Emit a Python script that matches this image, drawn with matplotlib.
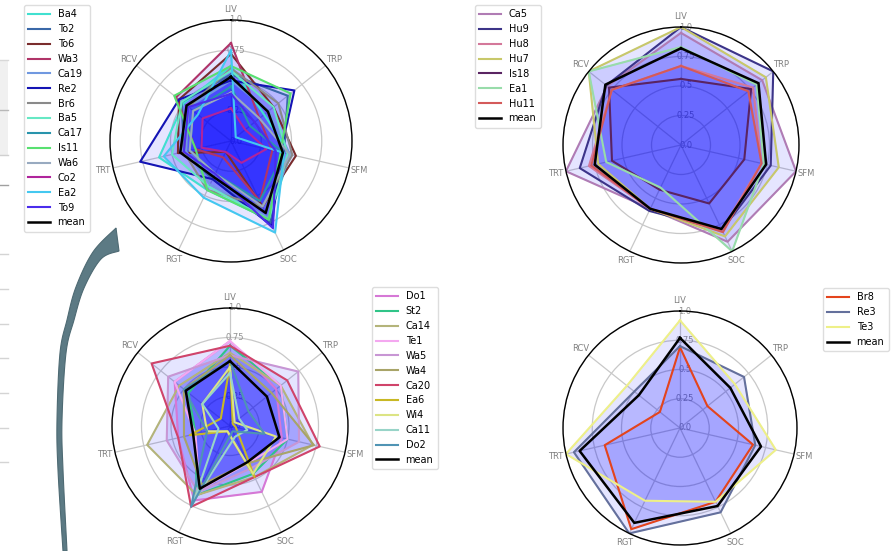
import numpy as np
import matplotlib
matplotlib.use("Agg")
import matplotlib.pyplot as plt
from matplotlib.path import Path
from matplotlib.patches import PathPatch, Rectangle
from matplotlib.lines import Line2D

# ---- data -------------------------------------------------------------
categories = ["LIV", "TRP", "SFM", "SOC", "RGT", "TRT", "RCV"]
r_ticks = [0.0, 0.25, 0.5, 0.75, 1.0]
r_tick_labels = ["0.0", "0.25", "0.5", "0.75", "1.0"]

# group 1
g1_names = ["Ba4", "To2", "To6", "Wa3", "Ca19", "Re2", "Br6", "Ba5",
            "Ca17", "Is11", "Wa6", "Co2", "Ea2", "To9"]
g1_colors = ["#40e0d0", "#3a68a8", "#7a2c2c", "#b03468", "#7098e0", "#1414b4",
             "#8a8a8a", "#66e8c4", "#2894ac", "#58e070", "#98aac0", "#b0249c",
             "#44c8f0", "#4a2cec"]
g1_values = [
    [0.62, 0.35, 0.50, 0.72, 0.45, 0.61, 0.50],
    [0.55, 0.60, 0.45, 0.75, 0.35, 0.40, 0.52],
    [0.72, 0.45, 0.55, 0.60, 0.10, 0.45, 0.55],
    [0.81, 0.30, 0.35, 0.55, 0.15, 0.30, 0.58],
    [0.50, 0.40, 0.50, 0.70, 0.40, 0.38, 0.45],
    [0.50, 0.67, 0.42, 0.78, 0.35, 0.77, 0.55],
    [0.60, 0.50, 0.52, 0.60, 0.45, 0.40, 0.45],
    [0.58, 0.45, 0.48, 0.72, 0.42, 0.50, 0.52],
    [0.45, 0.20, 0.45, 0.55, 0.30, 0.35, 0.40],
    [0.62, 0.63, 0.42, 0.72, 0.45, 0.30, 0.60],
    [0.40, 0.30, 0.50, 0.60, 0.30, 0.35, 0.40],
    [0.27, 0.15, 0.30, 0.20, 0.10, 0.25, 0.30],
    [0.75, 0.05, 0.45, 0.84, 0.52, 0.57, 0.35],
    [0.39, 0.25, 0.38, 0.80, 0.30, 0.40, 0.45],
]
g1_mean = [0.53, 0.39, 0.44, 0.66, 0.33, 0.43, 0.47]

# group 2
g2_names = ["Ca5", "Hu9", "Hu8", "Hu7", "Is18", "Ea1", "Hu11"]
g2_colors = ["#b07cb4", "#3c3488", "#d4789a", "#c8c86a", "#5a2462", "#98dcaa", "#d45a5a"]
g2_values = [
    [0.95, 0.88, 1.00, 0.91, 0.60, 1.00, 0.80],
    [1.00, 1.00, 0.78, 0.80, 0.62, 0.88, 0.81],
    [0.67, 0.78, 0.70, 0.80, 0.60, 0.80, 0.75],
    [1.00, 0.92, 0.85, 0.86, 0.60, 0.72, 1.00],
    [0.56, 0.76, 0.55, 0.55, 0.42, 0.60, 0.78],
    [0.83, 0.82, 0.72, 1.00, 0.40, 0.65, 1.00],
    [0.67, 0.73, 0.70, 0.82, 0.60, 0.78, 0.75],
]
g2_mean = [0.82, 0.84, 0.74, 0.79, 0.60, 0.75, 0.82]

# group 3
g3_names = ["Do1", "St2", "Ca14", "Te1", "Wa5", "Wa4", "Ca20", "Ea6", "Wi4", "Ca11", "Do2"]
g3_colors = ["#d678d6", "#30c488", "#b4b47a", "#f4a8f0", "#c896d4", "#a8a468",
             "#d0446a", "#c8b824", "#dce484", "#98d4c8", "#5094b4"]
g3_values = [
    [0.72, 0.50, 0.45, 0.62, 0.70, 0.45, 0.60],
    [0.68, 0.55, 0.50, 0.45, 0.65, 0.30, 0.45],
    [0.62, 0.55, 0.72, 0.48, 0.65, 0.72, 0.55],
    [0.72, 0.55, 0.50, 0.35, 0.60, 0.30, 0.60],
    [0.60, 0.74, 0.60, 0.40, 0.62, 0.55, 0.67],
    [0.60, 0.45, 0.73, 0.35, 0.55, 0.40, 0.50],
    [0.68, 0.62, 0.78, 0.48, 0.76, 0.45, 0.85],
    [0.52, 0.03, 0.05, 0.48, 0.05, 0.35, 0.10],
    [0.50, 0.05, 0.40, 0.45, 0.05, 0.20, 0.30],
    [0.45, 0.10, 0.15, 0.10, 0.70, 0.10, 0.30],
    [0.55, 0.20, 0.30, 0.05, 0.76, 0.20, 0.50],
]
g3_mean = [0.55, 0.40, 0.43, 0.34, 0.59, 0.32, 0.48]

# group 4
g4_names = ["Br8", "Re3", "Te3"]
g4_colors = ["#e4441c", "#64709c", "#eef088"]
g4_values = [
    [0.69, 0.30, 0.64, 0.70, 0.96, 0.66, 0.22],
    [0.70, 0.70, 0.66, 0.80, 1.00, 0.93, 0.50],
    [0.92, 0.60, 0.84, 0.70, 0.69, 1.00, 0.58],
]
g4_mean = [0.77, 0.55, 0.71, 0.74, 0.90, 0.88, 0.45]

# ---- figure -----------------------------------------------------------
W, H = 896, 551
fig = plt.figure(figsize=(W / 100, H / 100), dpi=100)
fig.patch.set_facecolor("white")


def px_rect(left, top, size):
    return [left / W, (H - top - size) / H, size / W, size / H]


def radar(rect, names, values, mean, colors, legend_xy):
    ax = fig.add_axes(rect, projection="polar")
    n = len(categories)
    ang = np.linspace(0, 2 * np.pi, n, endpoint=False)
    ang_c = np.concatenate([ang, ang[:1]])
    ax.set_theta_offset(np.pi / 2)
    ax.set_theta_direction(-1)
    ax.set_axisbelow(True)
    handles = []
    for name, vals, col in zip(names, values, colors):
        v = np.concatenate([vals, vals[:1]])
        h, = ax.plot(ang_c, v, color=col, lw=1.5, label=name)
        ax.fill(ang_c, v, color="b", alpha=0.1)
        handles.append(h)
    v = np.concatenate([mean, mean[:1]])
    h, = ax.plot(ang_c, v, color="black", lw=1.8, label="mean")
    ax.fill(ang_c, v, color="b", alpha=0.1)
    handles.append(h)

    ax.set_xticks(ang)
    ax.set_xticklabels(categories)
    ax.set_ylim(0, 1)
    ax.set_yticks(r_ticks)
    ax.set_yticklabels([])
    # radial values sit centred on each ring, just right of the LIV spoke,
    # underneath the filled polygons
    for r, s in zip(r_ticks, r_tick_labels):
        ax.annotate(s, xy=(0, r), xytext=(5, 0), textcoords="offset pixels",
                    ha="center", va="center", fontsize=6, color="#909090",
                    zorder=0.6, annotation_clip=False)
    ax.tick_params(axis="x", labelsize=6, labelcolor="#808080", pad=-3)
    ax.grid(color="#c8c8c8", lw=0.9)
    ax.spines["polar"].set_color("black")
    ax.spines["polar"].set_linewidth(1.0)
    fig.legend(handles=handles, loc="upper left",
               bbox_to_anchor=(legend_xy[0] / W, 1 - legend_xy[1] / H),
               borderaxespad=0.0,
               fontsize=7.0, labelspacing=0.5, handlelength=2.25,
               borderpad=0.45, handletextpad=0.75, frameon=True,
               fancybox=True, framealpha=1.0, edgecolor="#dddddd")
    return ax


radar(px_rect(110, 20, 242), g1_names, g1_values, g1_mean, g1_colors, (24, 5))
radar(px_rect(563, 27, 236), g2_names, g2_values, g2_mean, g2_colors, (475, 5))
radar(px_rect(112, 308, 236), g3_names, g3_values, g3_mean, g3_colors, (372, 287))
radar(px_rect(563, 311, 234), g4_names, g4_values, g4_mean, g4_colors, (823, 288))

# ---- page fragments along the left margin -------------------------------
def fx(x):
    return x / W


def fy(y):
    return 1 - y / H


fig.add_artist(Rectangle((0, fy(155)), fx(8), (155 - 60) / H,
                         transform=fig.transFigure, facecolor="#f0f0f0",
                         edgecolor="none", zorder=0))
for y, c in [(60, "#d8d8d8"), (110, "#b8b8b8"), (155, "#d0d0d0"), (185, "#a0a0a0")]:
    fig.add_artist(Line2D([0, fx(8)], [fy(y), fy(y)], transform=fig.transFigure,
                          color=c, lw=1.0))
for y in [254, 289, 324, 358, 393, 428, 462]:
    fig.add_artist(Line2D([0, fx(8)], [fy(y), fy(y)], transform=fig.transFigure,
                          color="#d4d4d4", lw=1.0))


# ---- curved swoosh arrow --------------------------------------------------
def catmull(pts, steps=20):
    p = np.asarray(pts, float)
    p = np.vstack([p[0], p, p[-1]])
    out = []
    for i in range(1, len(p) - 2):
        p0, p1, p2, p3 = p[i - 1], p[i], p[i + 1], p[i + 2]
        for t in np.linspace(0, 1, steps, endpoint=False):
            t2, t3 = t * t, t * t * t
            out.append(0.5 * ((2 * p1) + (-p0 + p2) * t +
                              (2 * p0 - 5 * p1 + 4 * p2 - p3) * t2 +
                              (-p0 + 3 * p1 - 3 * p2 + p3) * t3))
    out.append(p[-2])
    return np.array(out)


left_edge = catmull([(63, 551), (58, 470), (57, 420), (60, 353), (67, 320),
                     (76, 287), (93, 252), (116, 228)])
right_edge = catmull([(119, 251), (101, 259), (84, 288), (74, 320), (66, 353),
                      (62, 420), (63, 470), (67, 551)])
outline = np.vstack([left_edge, right_edge, left_edge[:1]])
verts = np.column_stack([outline[:, 0] / W, 1 - outline[:, 1] / H])
codes = [Path.MOVETO] + [Path.LINETO] * (len(verts) - 2) + [Path.CLOSEPOLY]
fig.add_artist(PathPatch(Path(verts, codes), transform=fig.transFigure,
                         facecolor="#5c7a84", edgecolor="#4e6a73", lw=0.8,
                         zorder=5))

fig.savefig("out.png", dpi=100)
